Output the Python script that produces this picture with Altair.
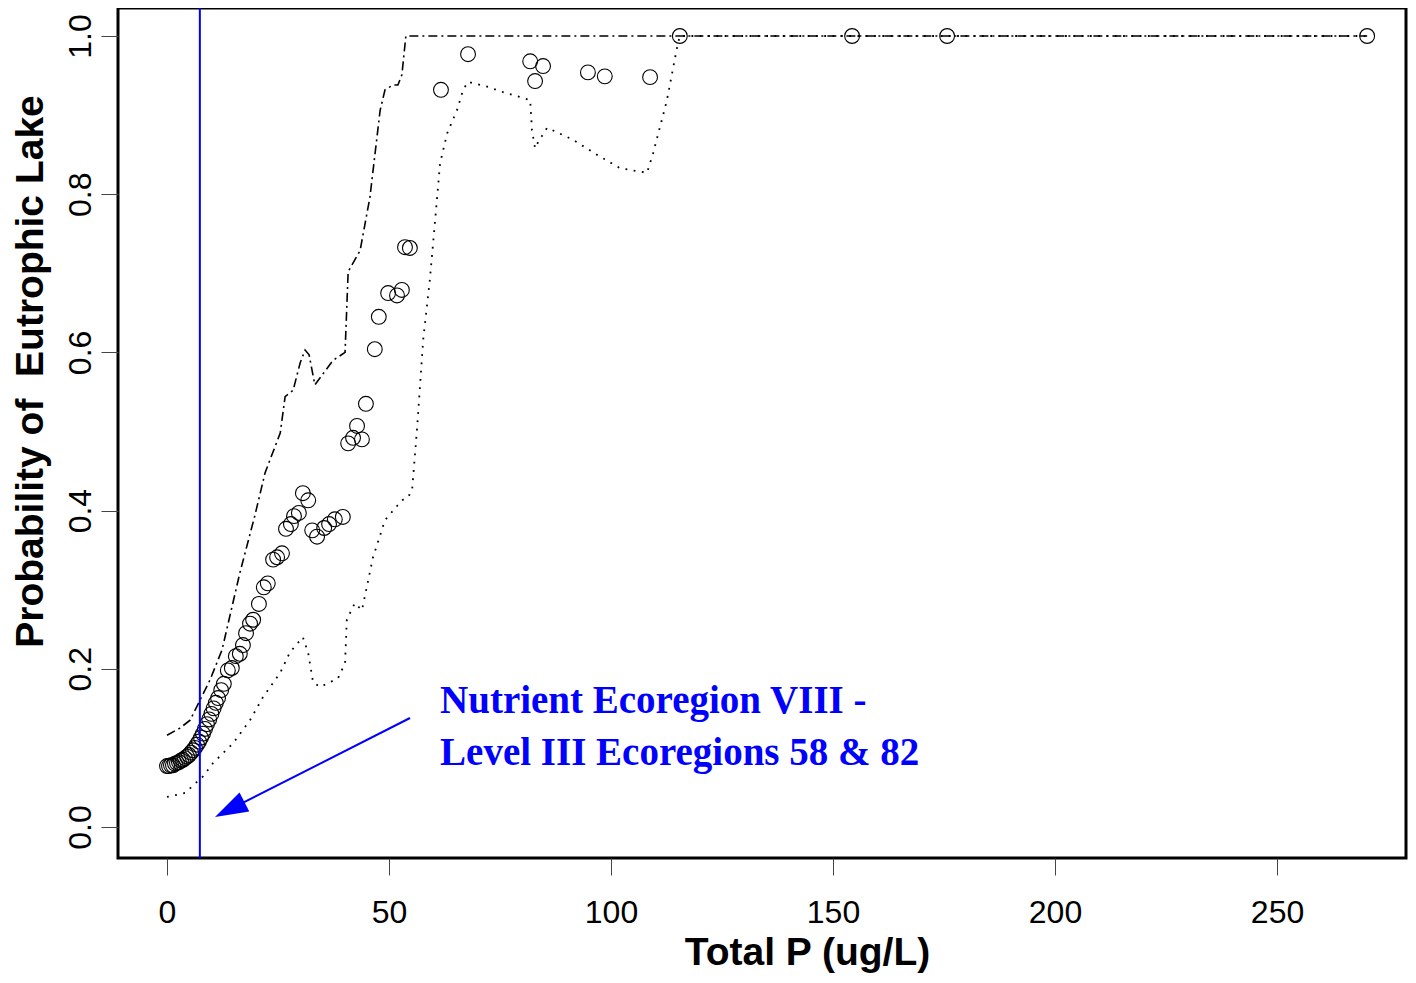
import altair as alt
import pandas as pd

# Observed points (Total P, probability)
pt_x = [0.0, 0.45, 0.9, 1.35, 1.8, 2.25, 2.7, 3.15, 3.6, 4.05, 4.5, 4.95, 5.4, 5.85, 6.3,
        6.75, 7.2, 7.65, 8.1, 8.55, 9.0, 9.5, 10.0, 10.5, 11.0, 11.5, 12.2, 12.8, 13.7, 14.6,
        15.5, 16.4, 17.1, 17.8, 18.7, 19.4, 20.7, 21.8, 22.7, 23.9, 24.8, 25.9, 26.8, 27.9,
        28.6, 29.7, 30.6, 31.8, 32.7, 33.8, 35.4, 36.5, 37.8, 39.6, 40.8, 41.9, 42.8, 43.9,
        44.8, 46.8, 47.7, 49.8, 51.8, 52.9, 53.6, 54.7, 61.7, 67.8, 81.8, 82.9, 84.7, 94.8,
        98.6, 108.8, 115.5, 154.3, 175.7, 270.3]
pt_y = [0.077, 0.077, 0.078, 0.078, 0.080, 0.081, 0.082, 0.084, 0.085, 0.087, 0.089, 0.091,
        0.094, 0.097, 0.100, 0.104, 0.108, 0.113, 0.118, 0.124, 0.130, 0.136, 0.143, 0.150,
        0.157, 0.163, 0.173, 0.181, 0.198, 0.201, 0.216, 0.219, 0.230, 0.245, 0.257, 0.262,
        0.282, 0.303, 0.308, 0.338, 0.341, 0.346, 0.377, 0.383, 0.393, 0.397, 0.422, 0.413,
        0.375, 0.367, 0.378, 0.383, 0.389, 0.392, 0.485, 0.492, 0.507, 0.490, 0.535, 0.604,
        0.645, 0.675, 0.672, 0.679, 0.733, 0.732, 0.932, 0.977, 0.968, 0.943, 0.962, 0.954,
        0.949, 0.948, 1.0, 1.0, 1.0, 1.0]

# Upper bound (dash-dot)
up_x = [0.0, 2.9, 5.2, 7.4, 9.7, 12.4, 16.4, 19.8, 22.1, 25.5, 26.6, 28.4, 30.0, 31.1, 32.0,
        33.3, 37.4, 40.1, 40.8, 43.5, 45.7, 48.0, 49.1, 50.9, 52.0, 52.9, 53.8, 270.3]
up_y = [0.116, 0.125, 0.135, 0.160, 0.186, 0.224, 0.321, 0.394, 0.448, 0.498, 0.544, 0.552,
        0.587, 0.603, 0.597, 0.559, 0.590, 0.600, 0.702, 0.729, 0.796, 0.906, 0.932, 0.938,
        0.938, 0.951, 1.0, 1.0]

# Lower bound (dotted)
lo_x = [0.0, 4.05, 8.1, 10.4, 14.9, 18.7, 21.6, 25.5, 27.7, 30.6, 31.8, 32.9, 34.5, 38.5,
        40.1, 40.5, 42.3, 43.9, 46.4, 49.1, 52.9, 54.3, 55.2, 56.3, 57.7, 59.2, 60.8, 61.5,
        63.1, 65.3, 66.7, 67.8, 72.1, 75.7, 81.8, 82.2, 82.9, 83.6, 85.6, 91.4, 96.8, 102.0,
        108.1, 109.5, 112.6, 114.9, 115.5, 270.3]
lo_y = [0.038, 0.043, 0.064, 0.081, 0.106, 0.135, 0.164, 0.195, 0.221, 0.240, 0.220, 0.183,
        0.177, 0.188, 0.207, 0.262, 0.283, 0.274, 0.341, 0.388, 0.413, 0.417, 0.426, 0.502,
        0.616, 0.692, 0.793, 0.839, 0.877, 0.906, 0.932, 0.942, 0.936, 0.929, 0.919, 0.881,
        0.858, 0.866, 0.884, 0.869, 0.850, 0.833, 0.827, 0.852, 0.919, 0.986, 1.0, 1.0]

vline_x = [7.4]
x_ticks = [0, 50, 100, 150, 200, 250]
y_ticks = [0.0, 0.2, 0.4, 0.6, 0.8, 1.0]

note_lines = ["Nutrient Ecoregion VIII -", "Level III Ecoregions 58 & 82"]
note_x = [61.5, 61.5]
note_y = [0.1441, 0.0784]

arrow_from = (54.73, 0.1378)
arrow_mid = (13.83, 0.0212)
arrow_tip = (10.81, 0.0126)

x_dom = [-11.036, 279.05]
y_dom = [-0.0392, 1.0354]

xs = alt.Scale(domain=x_dom, nice=False, zero=False)
ys = alt.Scale(domain=y_dom, nice=False, zero=False)

x_axis = alt.Axis(values=x_ticks, title="Total P (ug/L)", format="d", grid=False, domain=False,
                  tickSize=17, tickColor="#444", labelPadding=47, labelBaseline="alphabetic",
                  labelFontSize=32, labelFlush=False, labelOverlap=False,
                  titleFontSize=39, titleFontWeight="bold", titleX=689, titleY=106,
                  titleBaseline="alphabetic", titleAlign="center")
y_axis = alt.Axis(values=y_ticks, title="Probability of \u00a0Eutrophic Lake", format=".1f",
                  grid=False, domain=False, tickSize=17, tickColor="#444", labelPadding=11,
                  labelAngle=270, labelAlign="center", labelBaseline="alphabetic",
                  labelFontSize=32, labelFlush=False, labelOverlap=False,
                  titleFontSize=39, titleFontWeight="bold", titleX=-76, titleY=363,
                  titleAngle=270, titleBaseline="alphabetic", titleAlign="center")

pts = pd.DataFrame({"x": pt_x, "y": pt_y})
up = pd.DataFrame({"x": up_x, "y": up_y})
lo = pd.DataFrame({"x": lo_x, "y": lo_y})

upper = alt.Chart(up).mark_line(color="black", strokeWidth=1.6, strokeDash=[9, 4, 2, 4]).encode(
    x=alt.X("x:Q", scale=xs, axis=x_axis), y=alt.Y("y:Q", scale=ys, axis=y_axis))
lower = alt.Chart(lo).mark_line(color="black", strokeWidth=1.8, strokeDash=[1.8, 6.5]).encode(
    x=alt.X("x:Q", scale=xs), y=alt.Y("y:Q", scale=ys))
points = alt.Chart(pts).mark_point(shape="circle", filled=False, color="black", size=220,
                                   strokeWidth=1.1, opacity=1).encode(
    x=alt.X("x:Q", scale=xs), y=alt.Y("y:Q", scale=ys))
vline = alt.Chart(pd.DataFrame({"x": vline_x})).mark_rule(color="#0000FF", strokeWidth=2).encode(
    x=alt.X("x:Q", scale=xs))
arrow_line = alt.Chart(pd.DataFrame({"x": [arrow_from[0]], "y": [arrow_from[1]],
                                     "x2": [arrow_mid[0]], "y2": [arrow_mid[1]]})).mark_rule(
    color="#0000FF", strokeWidth=2).encode(
    x=alt.X("x:Q", scale=xs), y=alt.Y("y:Q", scale=ys), x2="x2:Q", y2="y2:Q")
arrow_head = alt.Chart(pd.DataFrame({"x": [arrow_tip[0]], "y": [arrow_tip[1]]})).mark_point(
    shape="M0,0L0.65,2L-0.65,2Z", filled=True, color="#0000FF", opacity=1, size=1089,
    angle=243, strokeWidth=0).encode(
    x=alt.X("x:Q", scale=xs), y=alt.Y("y:Q", scale=ys))
note = alt.Chart(pd.DataFrame({"x": note_x, "y": note_y, "t": note_lines})).mark_text(
    font="Liberation Serif", fontWeight="bold", fontSize=39, color="#0000FF",
    align="left", baseline="alphabetic").encode(
    x=alt.X("x:Q", scale=xs), y=alt.Y("y:Q", scale=ys), text="t:N")

chart = alt.layer(upper, lower, points, vline, arrow_line, arrow_head, note).properties(
    width=1288, height=850,
    autosize=alt.AutoSizeParams(type="none"),
    padding={"left": 110, "top": 0, "right": 2, "bottom": 117},
).configure_view(stroke="black", strokeWidth=3).configure_axis(
    labelFont="Liberation Sans", titleFont="Liberation Sans", labelColor="black",
    titleColor="black")

chart.save("out.html", embed_options={"renderer": "svg", "actions": False})
